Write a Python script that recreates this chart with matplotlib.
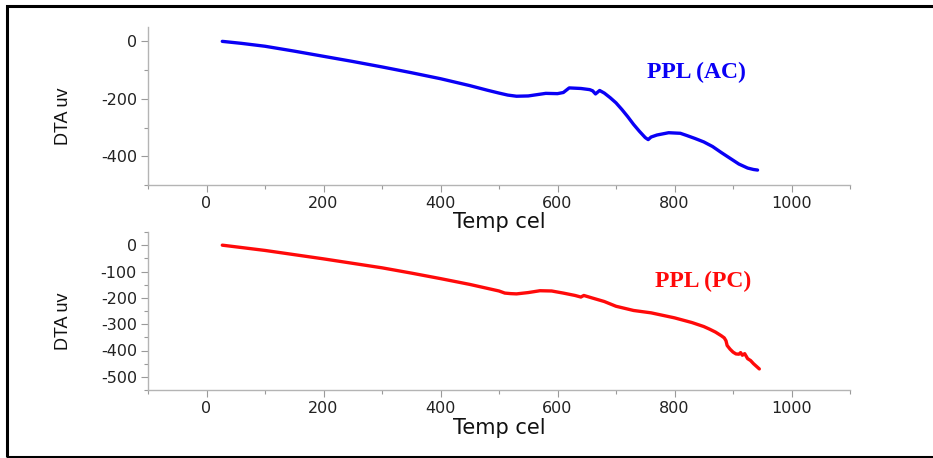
import matplotlib
matplotlib.use("Agg")
import matplotlib.pyplot as plt
from matplotlib.patches import Rectangle
from matplotlib.ticker import MultipleLocator

# DTA trace for PPL (AC)
temp_ac = [27, 60, 100, 150, 200, 250, 300, 350, 400, 450, 480, 500, 515, 530,
           550, 580, 600, 610, 615, 620, 640, 655, 660, 665, 672, 680, 690, 700,
           710, 720, 730, 740, 750, 755, 760, 770, 790, 810, 820, 835, 850, 865,
           880, 895, 910, 925, 935, 942]
dta_ac = [0, -7, -17, -34, -52, -70, -89, -109, -130, -154, -170, -180, -187,
          -191, -190, -181, -182, -178, -170, -162, -164, -168, -172, -183, -171,
          -180, -196, -214, -237, -262, -289, -313, -335, -342, -333, -326, -318,
          -320, -327, -338, -350, -366, -387, -407, -427, -441, -446, -448]

# DTA trace for PPL (PC)
temp_pc = [27, 60, 100, 150, 200, 250, 300, 350, 400, 450, 480, 500, 510, 520,
           530, 550, 570, 590, 610, 630, 640, 645, 660, 680, 700, 730, 760, 800,
           830, 850, 860, 870, 880, 885, 888, 890, 895, 900, 905, 910, 913, 916,
           920, 925, 930, 935, 940, 945]
dta_pc = [0, -9, -20, -36, -52, -69, -86, -106, -127, -149, -164, -174, -182,
          -184, -185, -180, -173, -174, -182, -191, -197, -191, -201, -214, -232,
          -248, -257, -276, -294, -309, -319, -330, -344, -352, -363, -381, -395,
          -406, -413, -414, -408, -418, -412, -431, -438, -450, -460, -470]

x_ticks = [0, 200, 400, 600, 800, 1000]
ac_yticks = [0, -200, -400]
pc_yticks = [0, -100, -200, -300, -400, -500]

plt.rcParams["font.family"] = ["DejaVu Sans"]
plt.rcParams["axes.unicode_minus"] = False

W, H = 933, 458
fig = plt.figure(figsize=(W / 100, H / 100), dpi=100)

# thin frame around the figure
fig.patches.append(Rectangle((7.5 / W, 1.5 / H), 1.2, 1 - 7 / H,
                             transform=fig.transFigure, fill=False,
                             edgecolor="black", linewidth=2.2, zorder=10))


def make_axes(top_px, bottom_px):
    left_px, right_px = 148, 850
    return fig.add_axes([left_px / W, 1 - bottom_px / H,
                         (right_px - left_px) / W, (bottom_px - top_px) / H])


def style(ax, yticks, yminor, ylim):
    ax.set_xlim(-100, 1100)
    ax.set_ylim(*ylim)
    ax.set_xticks(x_ticks)
    ax.set_yticks(yticks)
    ax.xaxis.set_minor_locator(MultipleLocator(100))
    ax.yaxis.set_minor_locator(MultipleLocator(yminor))
    for s in ("top", "right"):
        ax.spines[s].set_visible(False)
    for s in ("left", "bottom"):
        ax.spines[s].set_color("#b4b4b4")
        ax.spines[s].set_linewidth(1.0)
    ax.tick_params(which="both", direction="out", color="#9a9a9a",
                   labelsize=11.5, labelcolor="#222222")
    ax.tick_params(which="major", length=5, width=0.8, pad=3)
    ax.tick_params(which="minor", length=3, width=0.8)
    ax.set_xlabel("Temp cel", fontsize=15, labelpad=1, color="#111111")
    ax.set_ylabel("DTA uv", fontsize=13, color="#111111",
                  family=["Liberation Sans", "DejaVu Sans"])
    ax.yaxis.set_label_coords(-0.108, 0.435)


ax1 = make_axes(27, 185)
ax1.plot(temp_ac, dta_ac, color="#0a00f5", linewidth=2.4,
         solid_capstyle="round", solid_joinstyle="round")
style(ax1, ac_yticks, 100, (-500, 50))
ax1.text(837, -109, "PPL (AC)", color="#0a00f5", fontsize=17, fontweight="bold",
         family=["Liberation Serif", "DejaVu Serif"], ha="center", va="center")

ax2 = make_axes(232, 390)
ax2.plot(temp_pc, dta_pc, color="#ff0a0a", linewidth=2.4,
         solid_capstyle="round", solid_joinstyle="round")
style(ax2, pc_yticks, 50, (-550, 50))
ax2.text(849, -139, "PPL (PC)", color="#ff0a0a", fontsize=17, fontweight="bold",
         family=["Liberation Serif", "DejaVu Serif"], ha="center", va="center")

fig.savefig("out.png", dpi=100)
